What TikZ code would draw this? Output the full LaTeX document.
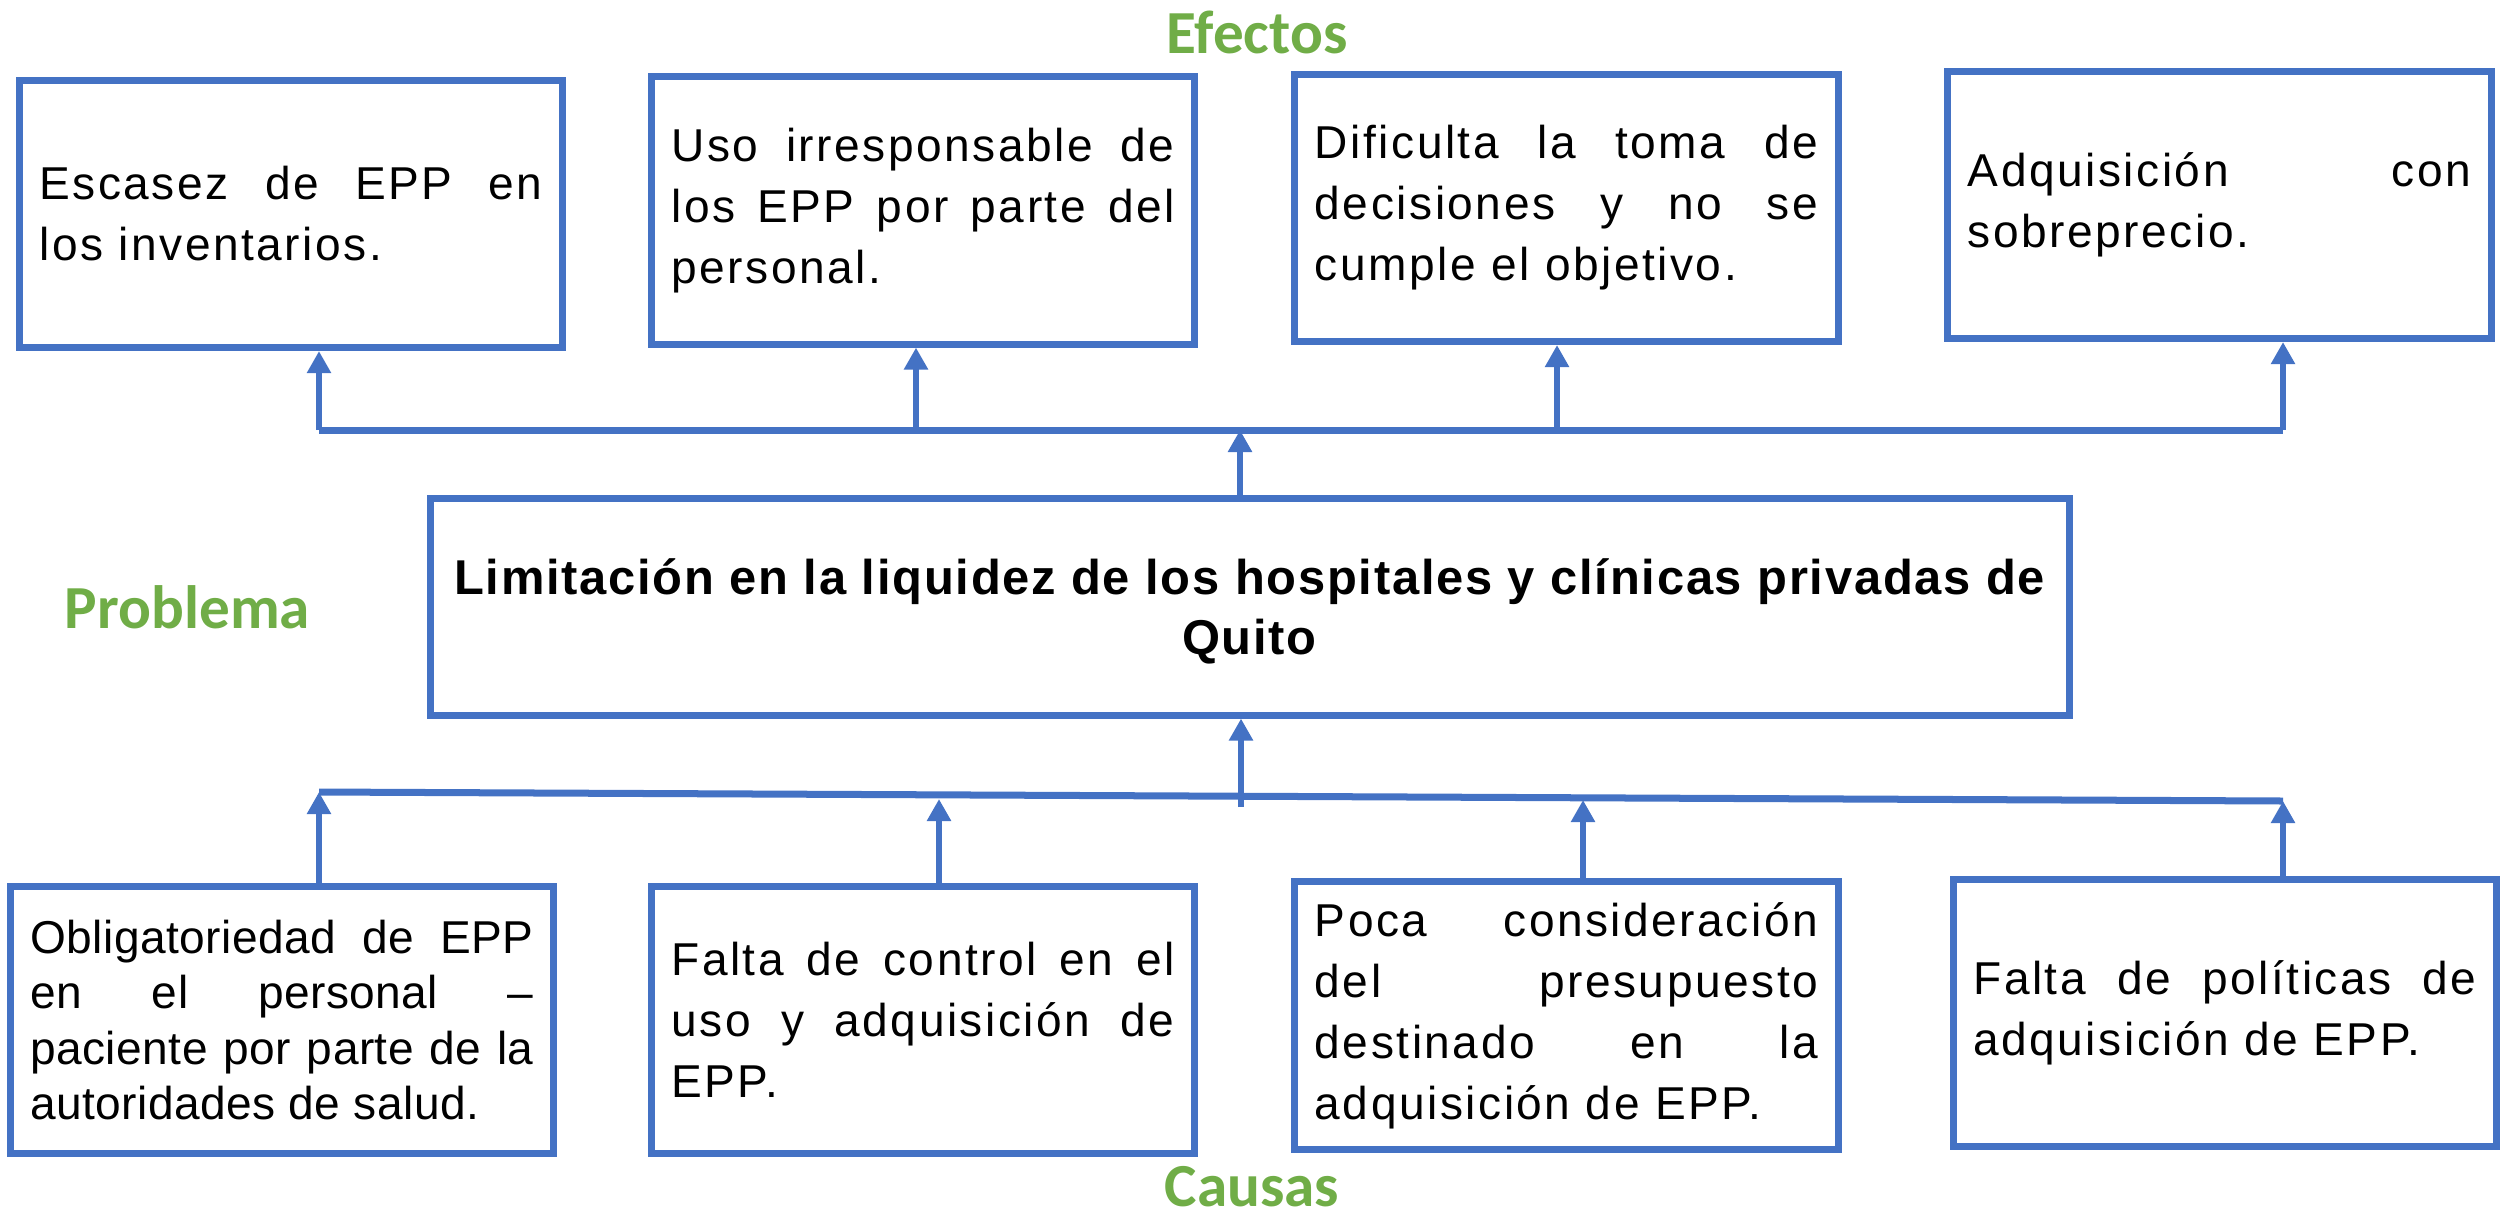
\documentclass[tikz,border=0pt]{standalone}
\usepackage{fontspec}
\setmainfont{Liberation Sans}
\newfontfamily\boxfont{Liberation Sans}[LetterSpace=5.5]
\newfontfamily\narrowfont{Liberation Sans}[LetterSpace=1]
\newfontfamily\titlefont{Liberation Sans}[LetterSpace=3.6]
\newfontfamily\headfont{Carlito}
\usetikzlibrary{positioning,arrows.meta}
\definecolor{boxblue}{HTML}{4472C4}
\definecolor{headgreen}{HTML}{70AD47}
\tolerance=10000
\hbadness=10000
\hyphenpenalty=10000

\begin{document}
\begin{tikzpicture}[x=0.01cm, y=-0.01cm, >={Triangle[length=2.2mm,width=2.3mm]},
    box/.style={draw=boxblue, line width=0.7mm, inner xsep=2mm},
    cell/.style={box, minimum height=26.7mm, text width=50.3mm, align=justify,
      font=\boxfont\fontsize{13.1pt}{17.36pt}\selectfont},
    heading/.style={anchor=base, inner sep=0pt, text=headgreen, font=\headfont\bfseries\fontsize{17.4pt}{20pt}\selectfont},
    bus/.style={boxblue, line width=0.7mm},
    link/.style={->, boxblue, line width=0.6mm}]
  \useasboundingbox (0,0) rectangle (2501,1215);

  \node[heading] (efectos) at (1257,53) {Efectos};
  \node[heading] (problema) at (187.5,628) {Problema};
  \node[heading] (causas) at (1252,1206) {Causas};

  \node[cell] (eff1) at (291,214) {Escasez de EPP en\linebreak los inventarios.};
  \node[cell] (eff2) at (923,210.5) {Uso irresponsable de\linebreak los EPP por parte del\linebreak personal.};
  \node[cell] (eff3) at (1566.5,208) {Dificulta la toma de\linebreak decisiones y no se\linebreak cumple el objetivo.};
  \node[cell] (eff4) at (2219.5,205) {Adquisición con\linebreak sobreprecio.};

  \node[box, minimum width=163.8mm, minimum height=21.6mm, align=center, text depth=-0.8mm,
    font=\titlefont\bfseries\fontsize{13.9pt}{17.07pt}\selectfont] (prob) at (1249.5,607)
    {Limitación en la liquidez de los hospitales y clínicas privadas de\\Quito};

  \node[cell, font=\narrowfont\fontsize{13.1pt}{15.65pt}\selectfont] (cau1) at (282,1020)
    {Obligatoriedad de EPP\linebreak en el personal –\linebreak paciente por parte de la\linebreak autoridades de salud.};
  \node[cell] (cau2) at (923,1020) {Falta de control en el\linebreak uso y adquisición de\linebreak EPP.};
  \node[cell] (cau3) at (1566.5,1015.5) {Poca consideración\linebreak del presupuesto\linebreak destinado en la\linebreak adquisición de EPP.};
  \node[cell] (cau4) at (2225,1013) {Falta de políticas de\linebreak adquisición de EPP.};

  \coordinate (ebA) at (319,430);
  \coordinate (ebB) at (916,430);
  \coordinate (ebC) at (1557,430);
  \coordinate (ebD) at (2283,430);
  \coordinate (ebP) at (1240,430);
  \draw[bus] (ebA) -- (ebD);
  \draw[link] (ebP |- prob.north) -- (ebP);
  \draw[link] (ebA) -- (ebA |- eff1.south);
  \draw[link] (ebB) -- (ebB |- eff2.south);
  \draw[link] (ebC) -- (ebC |- eff3.south);
  \draw[link] (ebD) -- (ebD |- eff4.south);

  \coordinate (cbA) at (319,792);
  \coordinate (cbB) at (939,799);
  \coordinate (cbC) at (1583,800);
  \coordinate (cbD) at (2283,801);
  \coordinate (cbP) at (1241,807);
  \draw[bus] (cbA) -- (cbD);
  \draw[link] (cbP) -- (cbP |- prob.south);
  \draw[link] (cbA |- cau1.north) -- (cbA);
  \draw[link] (cbB |- cau2.north) -- (cbB);
  \draw[link] (cbC |- cau3.north) -- (cbC);
  \draw[link] (cbD |- cau4.north) -- (cbD);
\end{tikzpicture}
\end{document}
